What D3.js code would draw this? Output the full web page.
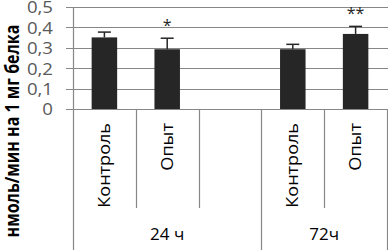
<!DOCTYPE html>
<html>
<head>
<meta charset="utf-8">
<script src="https://cdn.jsdelivr.net/npm/d3@7"></script>
<style>
  body { margin: 0; background: #fff; }
  text { font-family: "Open Sans", sans-serif; }
</style>
</head>
<body>
<script>
const width = 388;
const height = 250;

// categories (the empty slot separates the two time groups)
var categories = ["c1", "o1", "gap", "c2", "o2"];
var catLabels = ["Контроль", "Опыт", "", "Контроль", "Опыт"];
var values = [0.351, 0.293, null, 0.293, 0.368];
var errors = [0.026, 0.054, null, 0.024, 0.037];
var marks = ["", "*", "", "", "**"];
var groups = [
  { label: "24 ч", from: "c1", to: "gap" },
  { label: "72ч", from: "c2", to: "o2" }
];
var yTicks = [0, 0.1, 0.2, 0.3, 0.4, 0.5];
var yTitle = "нмоль/мин на 1 мг белка";

var svg = d3.select("body")
  .append("svg")
  .attr("width", width)
  .attr("height", height);

var x = d3.scaleBand()
  .domain(categories)
  .range([73, 387])
  .paddingInner(0)
  .paddingOuter(0);

var y = d3.scaleLinear()
  .domain([0, 0.5])
  .range([109, 7]);

var gridColor = "#878787";

// horizontal gridlines
svg.selectAll("line.grid")
  .data(yTicks)
  .enter()
  .append("line")
  .attr("class", "grid")
  .attr("x1", 66)
  .attr("x2", width)
  .attr("y1", d => Math.round(y(d)) + 0.5)
  .attr("y2", d => Math.round(y(d)) + 0.5)
  .attr("stroke", gridColor)
  .attr("stroke-width", 1.2);

// tick labels (the reference type is a bit wide, so stretch it)
svg.selectAll("text.tick")
  .data(yTicks)
  .enter()
  .append("text")
  .attr("class", "tick")
  .attr("transform", d => "translate(53," + (y(d) + 1) + ") scale(1.2,1)")
  .attr("dy", "0.35em")
  .attr("text-anchor", "end")
  .attr("font-size", 15.5)
  .attr("fill", "#595959")
  .text(d => d === 0 ? "0" : d3.format(".1f")(d).replace(".", ","));

// vertical axis
svg.append("line")
  .attr("x1", 73.5).attr("x2", 73.5)
  .attr("y1", y(0.5)).attr("y2", height)
  .attr("stroke", gridColor)
  .attr("stroke-width", 1.2);

// category separators: short inside groups, long between groups
var seps = [
  { x: x("o1"), long: false },
  { x: x("gap"), long: false },
  { x: x("c2"), long: true },
  { x: x("o2"), long: false },
  { x: x.range()[1], long: true }
];
svg.selectAll("line.sep")
  .data(seps)
  .enter()
  .append("line")
  .attr("class", "sep")
  .attr("x1", d => Math.round(d.x) + 0.5)
  .attr("x2", d => Math.round(d.x) + 0.5)
  .attr("y1", y(0))
  .attr("y2", d => d.long ? height : 208)
  .attr("stroke", gridColor)
  .attr("stroke-width", 1.2);

var barW = 25.5;
var data = categories.map((c, i) => ({ c: c, v: values[i], e: errors[i], m: marks[i], label: catLabels[i] }));
var bars = data.filter(d => d.v !== null);

// error bars (upper half only)
var eb = svg.selectAll("g.err")
  .data(bars)
  .enter()
  .append("g")
  .attr("class", "err");
eb.append("line")
  .attr("x1", d => x(d.c) + x.bandwidth() / 2)
  .attr("x2", d => x(d.c) + x.bandwidth() / 2)
  .attr("y1", d => y(d.v))
  .attr("y2", d => y(d.v + d.e))
  .attr("stroke", "#262626")
  .attr("stroke-width", 1.5);
eb.append("line")
  .attr("x1", d => x(d.c) + x.bandwidth() / 2 - 6.5)
  .attr("x2", d => x(d.c) + x.bandwidth() / 2 + 6.5)
  .attr("y1", d => y(d.v + d.e))
  .attr("y2", d => y(d.v + d.e))
  .attr("stroke", "#262626")
  .attr("stroke-width", 1.5);

// bars
svg.selectAll("rect.bar")
  .data(bars)
  .enter()
  .append("rect")
  .attr("class", "bar")
  .attr("x", d => x(d.c) + (x.bandwidth() - barW) / 2)
  .attr("width", barW)
  .attr("y", d => y(d.v))
  .attr("height", d => y(0) - y(d.v))
  .attr("fill", "#262626");

// significance marks
svg.selectAll("text.mark")
  .data(bars.filter(d => d.m))
  .enter()
  .append("text")
  .attr("class", "mark")
  .attr("x", d => x(d.c) + x.bandwidth() / 2)
  .attr("y", d => y(d.v + d.e) - 7)
  .attr("text-anchor", "middle")
  .attr("font-size", 16)
  .attr("fill", "#262626")
  .text(d => d.m);

// rotated category labels
svg.selectAll("text.cat")
  .data(data.filter(d => d.label))
  .enter()
  .append("text")
  .attr("class", "cat")
  .attr("transform", d => "translate(" + (x(d.c) + x.bandwidth() / 2) + ",123) rotate(-90) scale(1.13,1)")
  .attr("dy", "0.35em")
  .attr("text-anchor", "end")
  .attr("font-size", 16)
  .attr("fill", "#000")
  .text(d => d.label);

// group labels
svg.selectAll("text.group")
  .data(groups)
  .enter()
  .append("text")
  .attr("class", "group")
  .attr("x", d => (x(d.from) + x(d.to) + x.bandwidth()) / 2)
  .attr("y", 234.5)
  .attr("dy", "0.35em")
  .attr("text-anchor", "middle")
  .attr("font-size", 17)
  .attr("fill", "#000")
  .text(d => d.label);

// y axis title
svg.append("text")
  .attr("transform", "translate(12,131) rotate(-90) scale(1,1.25)")
  .attr("dy", "0.35em")
  .attr("text-anchor", "middle")
  .attr("font-size", 16)
  .attr("font-weight", "bold")
  .attr("fill", "#000")
  .text(yTitle);
</script>
</body>
</html>
